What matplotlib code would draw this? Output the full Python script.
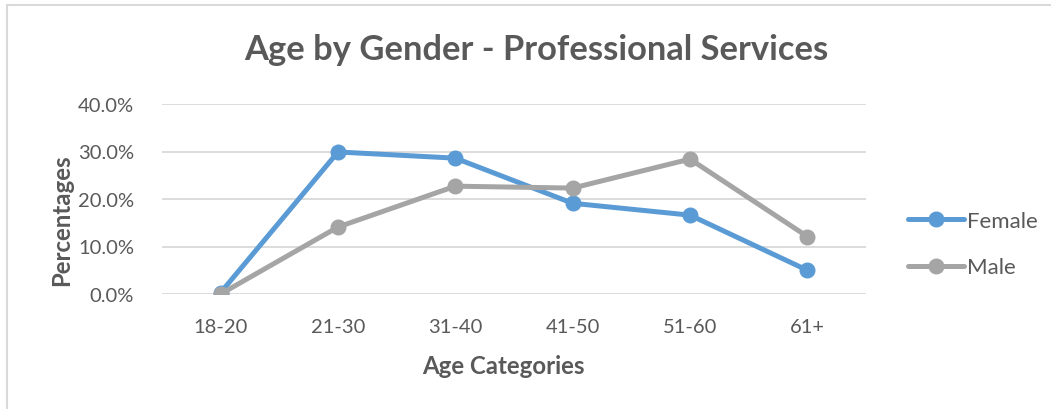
import matplotlib
matplotlib.use("Agg")
import matplotlib.pyplot as plt
from matplotlib.lines import Line2D
from matplotlib.ticker import PercentFormatter

categories = ["18-20", "21-30", "31-40", "41-50", "51-60", "61+"]
female = [0.3, 29.9, 28.6, 19.1, 16.6, 5.0]
male = [0.0, 14.1, 22.7, 22.3, 28.4, 12.1]
series_names = ["Female", "Male"]
yticks = [0, 10, 20, 30, 40]

plt.rcParams['font.family'] = ['Lato', 'DejaVu Sans']
txt = "#595959"
blue = "#5B9BD5"
gray = "#A5A5A5"

W, H = 1051, 410
fig = plt.figure(figsize=(W / 100, H / 100), dpi=100)
ax = fig.add_axes([162 / W, 1 - 295 / H, (866 - 162) / W, (295 - 105) / H])

x = list(range(len(categories)))
ax.plot(x, female, color=blue, lw=3.6, marker='o', ms=10.5, label=series_names[0],
        solid_capstyle='round', zorder=3)
ax.plot(x, male, color=gray, lw=3.6, marker='o', ms=10.5, label=series_names[1],
        solid_capstyle='round', zorder=3)

ax.set_xlim(-0.5, len(categories) - 0.5)
ax.set_ylim(0, 40)
ax.set_yticks(yticks)
ax.yaxis.set_major_formatter(PercentFormatter(decimals=1))
ax.set_xticks(x)
ax.set_xticklabels(categories)
ax.grid(axis='y', color="#D9D9D9", lw=1.3)
ax.set_axisbelow(True)
for s in ax.spines.values():
    s.set_visible(False)
ax.tick_params(axis='both', length=0, labelsize=14.5, labelcolor=txt)
ax.tick_params(axis='y', pad=20)
ax.tick_params(axis='x', pad=17)

fig.text(536 / W, 1 - 50 / H, "Age by Gender - Professional Services", ha='center', va='center',
         fontsize=24.8, fontweight='bold', color=txt)
fig.text(503 / W, 1 - 367 / H, "Age Categories", ha='center', va='center',
         fontsize=17.3, fontweight='bold', color=txt)
fig.text(62 / W, 1 - 220 / H, "Percentages", ha='center', va='center', rotation=90,
         fontsize=17.3, fontweight='bold', color=txt)

leg = ax.legend(loc='center left', bbox_to_anchor=(888 / W, 1 - 245 / H),
                bbox_transform=fig.transFigure, frameon=False, fontsize=16,
                handlelength=2.5, handletextpad=0.15, labelspacing=1.2, labelcolor=txt)

# chart border (left and top edges visible)
fig.add_artist(Line2D([6.5 / W, 6.5 / W], [0, 1 - 5.5 / H], transform=fig.transFigure,
                      color="#D9D9D9", lw=1.5))
fig.add_artist(Line2D([6.5 / W, 1], [1 - 5.5 / H, 1 - 5.5 / H], transform=fig.transFigure,
                      color="#D9D9D9", lw=1.5))

fig.savefig("out.png", dpi=100)
